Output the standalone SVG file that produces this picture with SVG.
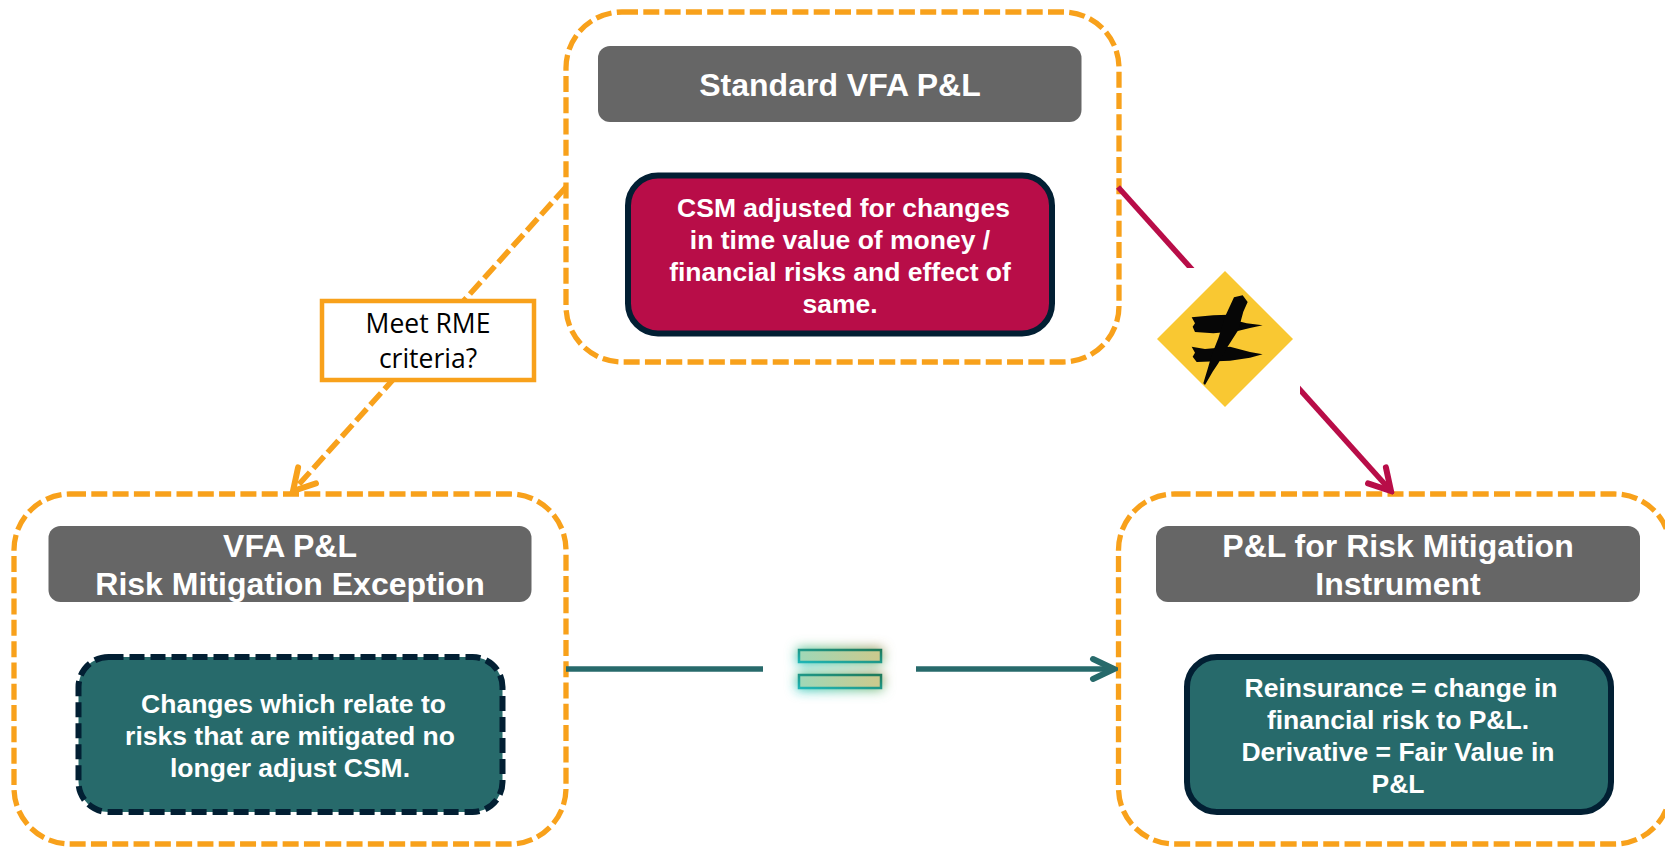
<svg xmlns="http://www.w3.org/2000/svg" width="1665" height="848" viewBox="0 0 1665 848">
<style>
text{font-family:"Liberation Sans",Arial,sans-serif;font-weight:700;fill:#fff;text-anchor:middle}
.h{font-size:32px}
.b{font-size:26.500px}
.c{fill:#fff;stroke:#F8A11B;stroke-width:5.300;stroke-dasharray:16 5.300}
.g{fill:#666}
.t{fill:#276A6B;stroke:#021F33;stroke-width:6}
.r{fill:#B80D48;stroke:#021F33;stroke-width:6}
.l{fill:none;stroke-width:5.500}
.lb{font-family:"Open Sans","Noto Sans",sans-serif;font-weight:400;fill:#000;font-size:26.500px}
</style>
<defs>
<linearGradient id="gl" x1="0" y1="1" x2="1" y2="0"><stop offset="0" stop-color="#10C8CC"/><stop offset="0.55" stop-color="#6FBF80"/><stop offset="1" stop-color="#A8854A"/></linearGradient>
<linearGradient id="gf" x1="0" y1="0" x2="1" y2="0"><stop offset="0" stop-color="#9FD8B8"/><stop offset="1" stop-color="#CDC98C"/></linearGradient>
<linearGradient id="gs" x1="0" y1="1" x2="1" y2="0"><stop offset="0" stop-color="#1FB5B5"/><stop offset="1" stop-color="#1F7A5A"/></linearGradient>
<filter id="blur" x="-30%" y="-150%" width="160%" height="400%"><feGaussianBlur stdDeviation="6"/></filter>
<marker id="aO" markerUnits="userSpaceOnUse" viewBox="-26 -16 30 32" refX="0" refY="0" markerWidth="30" markerHeight="32" orient="auto"><path d="M-21 -12L0 0L-21 12" fill="none" stroke="#F8A11B" stroke-width="6" stroke-linecap="round"/></marker>
<marker id="aR" markerUnits="userSpaceOnUse" viewBox="-26 -16 30 32" refX="0" refY="0" markerWidth="30" markerHeight="32" orient="auto"><path d="M-21 -12L0 0L-21 12" fill="none" stroke="#B80D48" stroke-width="6" stroke-linecap="round"/></marker>
<marker id="aT" markerUnits="userSpaceOnUse" viewBox="-26 -16 30 32" refX="0" refY="0" markerWidth="30" markerHeight="32" orient="auto"><path d="M-21 -10L0 0L-21 10" fill="none" stroke="#276A6B" stroke-width="6" stroke-linecap="round"/></marker>
</defs>
<rect width="1665" height="848" fill="#fff"/>

<g id="node-standard">
<rect class="c" x="566" y="12" width="553" height="350" rx="56"/>
<rect class="g" x="598" y="46" width="483.500" height="76" rx="12"/>
<text class="h" x="840" y="96">Standard VFA P&amp;L</text>
<rect class="r" x="628" y="175.500" width="424" height="158" rx="30"/>
<text class="b" x="843.500" y="217">CSM adjusted for changes</text>
<text class="b" x="840" y="249">in time value of money /</text>
<text class="b" x="840" y="281">financial risks and effect of</text>
<text class="b" x="840" y="313">same.</text>
</g>

<g id="node-rme">
<rect class="c" x="14" y="494" width="552" height="350" rx="56"/>
<rect class="g" x="48.500" y="526" width="483" height="76" rx="12"/>
<text class="h" x="290" y="557">VFA P&amp;L</text>
<text class="h" x="290" y="595">Risk Mitigation Exception</text>
<rect class="t" x="78.500" y="657" width="424" height="155" rx="30" stroke-dasharray="15 6"/>
<text class="b" x="293.500" y="713">Changes which relate to</text>
<text class="b" x="290" y="745">risks that are mitigated no</text>
<text class="b" x="290" y="777">longer adjust CSM.</text>
</g>

<g id="node-instrument">
<rect class="c" x="1118.500" y="494" width="552" height="350" rx="56"/>
<rect class="g" x="1156" y="526" width="484" height="76" rx="12"/>
<text class="h" x="1398" y="557">P&amp;L for Risk Mitigation</text>
<text class="h" x="1398" y="595">Instrument</text>
<rect class="t" x="1187" y="657" width="424" height="155" rx="30"/>
<text class="b" x="1401" y="697">Reinsurance = change in</text>
<text class="b" x="1398" y="729">financial risk to P&amp;L.</text>
<text class="b" x="1398" y="761">Derivative = Fair Value in</text>
<text class="b" x="1398" y="793">P&amp;L</text>
</g>

<g id="connectors">
<path class="l" d="M566 187L293 491" stroke="#F8A11B" stroke-dasharray="16 5.300" marker-end="url(#aO)"/>
<path class="l" d="M1118 187L1391 491" stroke="#B80D48" marker-end="url(#aR)"/>
<path class="l" d="M566 669H1114" stroke="#276A6B" marker-end="url(#aT)"/>
</g>

<g id="node-criteria">
<rect x="322" y="301" width="212" height="79" fill="#fff" stroke="#F8A11B" stroke-width="4.500"/>
<text class="lb" x="428" y="333">Meet RME</text>
<text class="lb" x="428" y="368">criteria?</text>
</g>

<g id="node-not-equal">
<rect x="1155" y="268" width="145" height="145" fill="#fff"/>
<path d="M1225 271L1293 339L1225 407L1157 339Z" fill="#F9C832"/>
<g transform="translate(1080 170) scale(0.3333)" fill="#060606">
<path d="M335 442L400 436L445 434L470 452L500 460L548 466L510 474L470 484L400 490L345 486L338 470L345 460Z"/>
<path d="M335 530L375 537L450 530L510 546L548 553L510 563L450 572L350 576L338 560L345 548Z"/>
<path d="M462 382L488 376L503 396L490 425L475 480L440 535L415 580L398 605L375 645L370 640L385 590L395 555L415 505L435 440Z"/>
</g>
</g>

<g id="node-equal">
<rect x="763" y="630" width="153" height="78" fill="#fff"/>
<g filter="url(#blur)" fill="url(#gl)">
<rect x="797" y="648" width="86" height="16"/>
<rect x="797" y="673" width="86" height="17"/>
</g>
<g fill="url(#gf)" stroke="url(#gs)" stroke-width="2.500">
<rect x="799" y="650" width="82" height="12"/>
<rect x="799" y="675" width="82" height="13"/>
</g>
</g>
</svg>
